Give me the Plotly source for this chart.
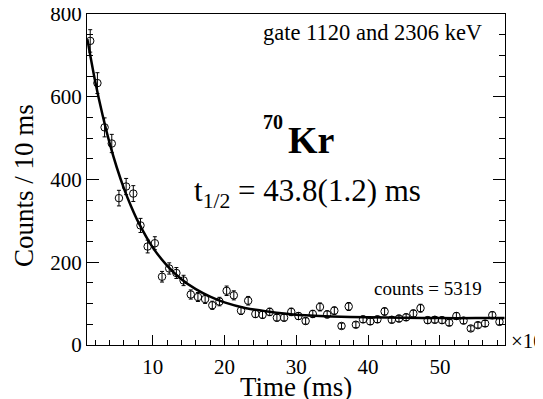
import numpy as np
import plotly.graph_objects as go

# bin centres (x10 ms units on the axis)
time_ms = [1.3, 2.3, 3.3, 4.3, 5.3, 6.3, 7.3, 8.3, 9.3, 10.3,
           11.3, 12.3, 13.3, 14.3, 15.3, 16.3, 17.3, 18.3, 19.3, 20.3,
           21.3, 22.3, 23.3, 24.3, 25.3, 26.3, 27.3, 28.3, 29.3, 30.3,
           31.3, 32.3, 33.3, 34.3, 35.3, 36.3, 37.3, 38.3, 39.3, 40.3,
           41.3, 42.3, 43.3, 44.3, 45.3, 46.3, 47.3, 48.3, 49.3, 50.3,
           51.3, 52.3, 53.3, 54.3, 55.3, 56.3, 57.3, 58.3]
counts = [735, 633, 526, 487, 355, 383, 366, 289, 238, 246,
          165, 185, 174, 156, 122, 116, 111, 96, 105, 131,
          120, 83, 107, 75, 73, 80, 66, 66, 80, 70,
          58, 75, 92, 74, 83, 46, 93, 49, 62, 57,
          62, 81, 61, 64, 67, 76, 89, 60, 61, 60,
          54, 70, 59, 40, 48, 52, 72, 56]

# fitted decay curve
fit_time = [0.9, 2, 3, 4, 5, 6, 7, 8, 10, 12, 14, 16, 18, 20, 23, 26, 30, 35, 40, 45, 50, 55, 59]
fit_counts = [739, 636, 557, 488, 429, 378, 335, 297, 236, 192, 159, 135, 117, 103, 89, 81, 73, 69, 67, 66, 65, 65, 65]

y_ticks = [0, 200, 400, 600, 800]
x_ticks = [10, 20, 30, 40, 50]

FONT = "Liberation Serif, Times New Roman, serif"

fig = go.Figure()
fig.add_trace(go.Scatter(
    x=time_ms, y=counts, mode="markers",
    marker=dict(symbol="circle-open", size=7.5, color="black", line=dict(width=1, color="black")),
    error_y=dict(type="data", array=np.sqrt(np.array(counts)), color="black", thickness=1, width=2),
    showlegend=False, hoverinfo="x+y",
))
fig.add_trace(go.Scatter(
    x=fit_time, y=fit_counts, mode="lines",
    line=dict(color="black", width=2.5, shape="spline", smoothing=0.8),
    showlegend=False, hoverinfo="skip",
))

# page body has an 8px margin, so the figure is sized/offset to compensate
fig.update_layout(
    width=535, height=391,
    margin=dict(l=79, r=38, t=6, b=54),
    paper_bgcolor="white", plot_bgcolor="white",
    font=dict(family=FONT, color="black", size=21),
    xaxis=dict(
        range=[0.85, 59.07], showgrid=False, zeroline=False, automargin=False,
        showline=True, linecolor="black", linewidth=1, mirror=True,
        ticks="inside", ticklen=10, tickwidth=1, tickcolor="black",
        tickvals=x_ticks, ticktext=[str(v) for v in x_ticks],
        tickfont=dict(family=FONT, size=21), ticklabelstandoff=3,
        ticklabeloverflow="allow",
        minor=dict(dtick=2, tick0=0, ticks="inside", ticklen=5, tickcolor="black", tickwidth=1),
    ),
    yaxis=dict(
        range=[0, 800], showgrid=False, zeroline=False, automargin=False,
        showline=True, linecolor="black", linewidth=1, mirror="ticks",
        ticks="inside", ticklen=12, tickwidth=1, tickcolor="black",
        tickvals=y_ticks, ticktext=[str(v) for v in y_ticks],
        tickfont=dict(family=FONT, size=21), ticklabelstandoff=0,
        ticklabeloverflow="allow",
        minor=dict(dtick=50, tick0=0, ticks="inside", ticklen=6, tickcolor="black", tickwidth=1),
    ),
)

def ann(text, x, y, size, xanchor="left", bold=False, angle=0):
    fig.add_annotation(
        text=("<b>%s</b>" % text) if bold else text,
        xref="paper", yref="paper", x=x, y=y, textangle=angle,
        xanchor=xanchor, yanchor="middle", showarrow=False,
        font=dict(family=FONT, size=size, color="black"),
    )

# axis titles
ann("Time (ms)", 0.5, -0.127, 27, xanchor="center")
ann("Counts / 10 ms", -0.151, 0.483, 27, xanchor="center", angle=-90)

ann("gate 1120 and 2306 keV", 0.95, 0.943, 22.5, xanchor="right")
ann("70", 0.416, 0.674, 20, bold=True)
ann("Kr", 0.475, 0.619, 38, bold=True)
ann("t<sub>1/2</sub> = 43.8(1.2) ms", 0.250, 0.460, 31)
ann("counts = 5319", 0.95, 0.172, 19, xanchor="right")
ann("×10<sup>-3</sup>", 1.0096, 0.018, 21)

fig.write_html("out.html")
